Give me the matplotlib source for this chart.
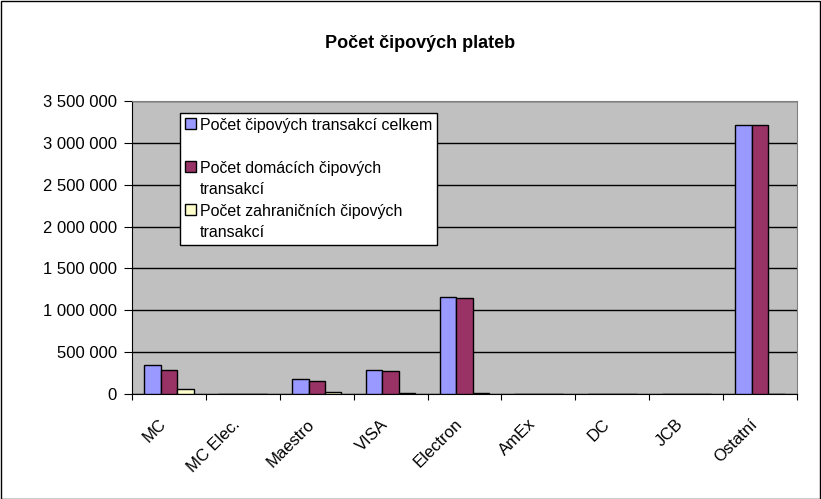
import matplotlib.pyplot as plt
import numpy as np
from matplotlib import ticker
from matplotlib.patches import Rectangle
from matplotlib.transforms import ScaledTranslation

plt.rcParams['font.family'] = ['Liberation Sans', 'DejaVu Sans']

categories = ["MC", "MC Elec.", "Maestro", "VISA", "Electron", "AmEx", "DC", "JCB", "Ostatní"]
celkem = [346000, 0, 179000, 287000, 1159000, 0, 0, 0, 3213000]
domaci = [287000, 0, 159000, 271000, 1147000, 0, 0, 0, 3213000]
zahranicni = [63000, 0, 20000, 15000, 10000, 0, 0, 0, 0]

labels = ["Počet čipových transakcí celkem\n ",
          "Počet domácích čipových\ntransakcí",
          "Počet zahraničních čipových\ntransakcí"]
colors = ["#9999FF", "#993366", "#FFFFCC"]

fig = plt.figure(figsize=(8.21, 4.99), dpi=100)
ax = fig.add_axes([132 / 821, 1 - 394 / 499, 665 / 821, 293 / 499])
ax.set_facecolor("#C0C0C0")

x = np.arange(len(categories))
w = 1 / 4.5
for i, (vals, col, lab) in enumerate(zip([celkem, domaci, zahranicni], colors, labels)):
    ax.bar(x - w + i * w, vals, width=w, color=col, edgecolor="black", linewidth=1, label=lab, zorder=3)

ax.set_xlim(-0.5, len(categories) - 0.5)
ax.set_ylim(0, 3500000)
ax.set_yticks(np.arange(0, 3500001, 500000))
ax.yaxis.set_major_formatter(ticker.FuncFormatter(lambda v, _: f"{int(v):,}".replace(",", " ")))
ax.grid(axis="y", color="black", linewidth=1, zorder=1)

# category boundaries get the tick marks, centres get the labels
ax.set_xticks(np.arange(-0.5, len(categories) + 0.5, 1))
ax.set_xticklabels([])
ax.set_xticks(x, minor=True)
ax.set_xticklabels(categories, minor=True, rotation=45, ha="right", va="center",
                   rotation_mode="anchor", fontsize=12)
ax.tick_params(axis="x", which="minor", length=0, pad=20)
ax.tick_params(axis="x", which="major", length=4.5, direction="out")
ax.tick_params(axis="y", labelsize=12, length=6, pad=5)
shift = ScaledTranslation(-5 / 100, 0, fig.dpi_scale_trans)
for lab in ax.get_xticklabels(minor=True):
    lab.set_transform(lab.get_transform() + shift)

for s in ["top", "right"]:
    ax.spines[s].set_color("#808080")
for s in ["left", "bottom"]:
    ax.spines[s].set_color("black")

leg = ax.legend(loc="upper left", bbox_to_anchor=(48 / 665, 1 - 12 / 293), frameon=True,
                fancybox=False, edgecolor="black", framealpha=1,
                prop={"size": 11.5}, handlelength=0.7, handleheight=0.7,
                handletextpad=0.25, labelspacing=0.45, borderpad=0.3, borderaxespad=0)
leg.get_frame().set_linewidth(1)
for t in leg.get_texts():
    t.set_linespacing(1.5)
# put the colour boxes next to the first line of each entry
for col in leg._legend_handle_box.get_children():
    for row in col.get_children():
        row.align = "top"

fig.text(420 / 821, 1 - 44 / 499, "Počet čipových plateb", ha="center", va="center",
         fontsize=13, fontweight="bold")

fig.patches.append(Rectangle((0.5 / 821, 0.5 / 499), 1 - 1.5 / 821, 1 - 1.5 / 499,
                             transform=fig.transFigure, fill=False, edgecolor="black", linewidth=1))

fig.savefig("out.png", dpi=100)
